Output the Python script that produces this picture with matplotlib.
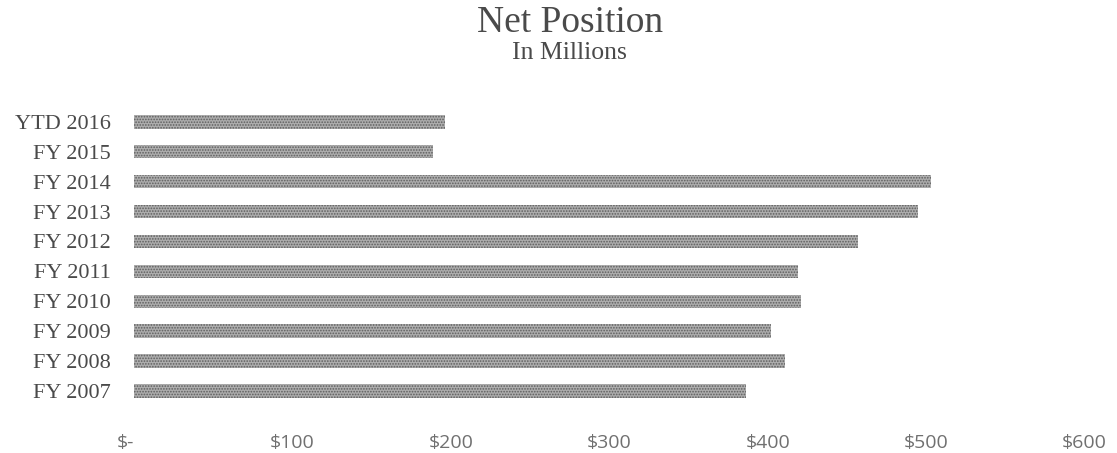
import matplotlib.pyplot as plt
import numpy as np

years = ["FY 2007", "FY 2008", "FY 2009", "FY 2010", "FY 2011",
         "FY 2012", "FY 2013", "FY 2014", "FY 2015", "YTD 2016"]
net_position = [386, 411, 402, 421, 419, 457, 495, 503, 189, 196]
x_ticks = [0, 100, 200, 300, 400, 500, 600]
x_labels = ["$-", "$100", "$200", "$300", "$400", "$500", "$600"]

serif = "Liberation Serif"
text_color = "#4a4a4a"

fig = plt.figure(figsize=(11.17, 4.53), dpi=100)
ax = fig.add_axes([0.12, 0.104, 0.851, 0.66])

y = np.arange(len(years))
plt.rcParams['hatch.linewidth'] = 0.8
ax.barh(y, net_position, height=0.45, color="#adadad", edgecolor="#5e5e5e",
        hatch="......", linewidth=0)

ax.set_xlim(0, 600)
ax.set_ylim(-0.5, len(years) - 0.5)
ax.set_yticks(y, years)
ax.set_xticks(x_ticks, x_labels)

for lbl in ax.get_yticklabels():
    lbl.set_fontfamily(serif)
    lbl.set_fontsize(16)
    lbl.set_color(text_color)
for lbl in ax.get_xticklabels():
    lbl.set_fontfamily("Open Sans")
    lbl.set_fontsize(14)
    lbl.set_color("#707070")
ax.get_xticklabels()[0].set_horizontalalignment("right")

ax.tick_params(axis="both", length=0)
ax.tick_params(axis="y", pad=17)
ax.tick_params(axis="x", pad=20)
for s in ax.spines.values():
    s.set_visible(False)

fig.text(0.51, 0.95, "Net Position", ha="center", va="center",
         fontsize=27, family=serif, color=text_color)
fig.text(0.51, 0.882, "In Millions", ha="center", va="center",
         fontsize=18.5, family=serif, color=text_color)

fig.savefig("out.png", dpi=100)
